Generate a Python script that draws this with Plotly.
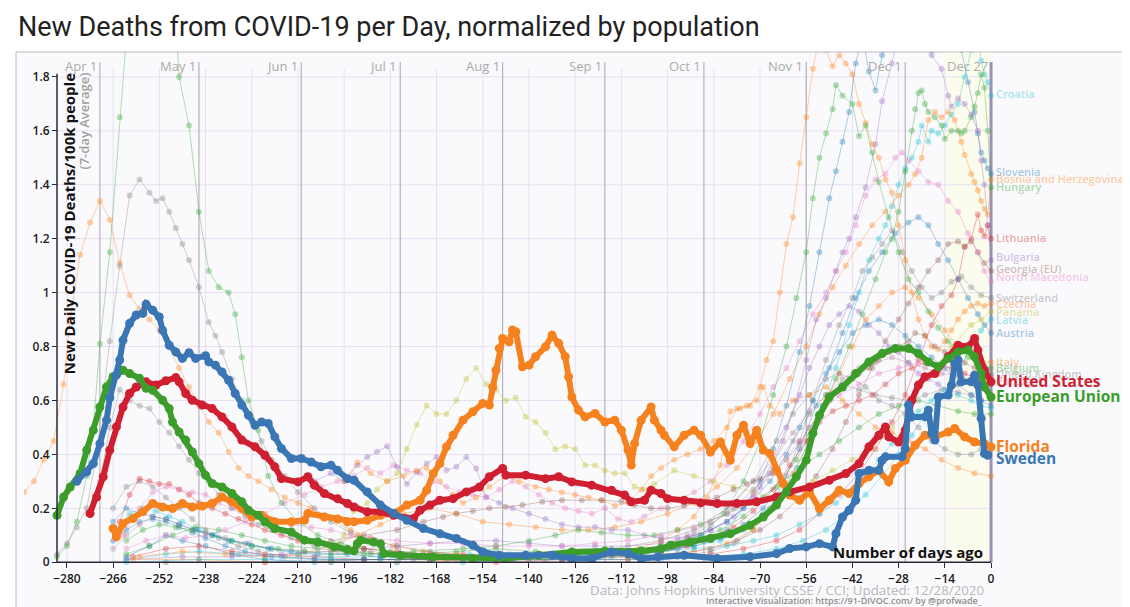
import plotly.graph_objects as go

# ---------------- DATA (day offset from Dec 27 2020, deaths / 100k, 7-day avg) ----------------
us = [(-273,0.181),(-271,0.242),(-269,0.317),(-267,0.416),(-265,0.502),(-263,0.576),(-261,0.626),(-259,0.65),
      (-256,0.669),(-253,0.657),(-250,0.673),(-247,0.685),(-246,0.669),(-244,0.626),(-242,0.601),(-239,0.583),
      (-236,0.57),(-233,0.539),(-230,0.502),(-227,0.453),(-223,0.428),(-220,0.397),(-217,0.354),(-215,0.31),
      (-210,0.298),(-207,0.317),(-205,0.286),(-202,0.255),(-198,0.236),(-195,0.218),(-193,0.205),(-189,0.187),
      (-185,0.187),(-181,0.174),(-175,0.162),(-173,0.193),(-170,0.212),(-167,0.23),(-163,0.236),(-159,0.261),
      (-155,0.279),(-152,0.317),(-148,0.348),(-147,0.323),(-141,0.323),(-135,0.31),(-131,0.317),(-127,0.298),
      (-121,0.286),(-115,0.267),(-111,0.249),(-109,0.224),(-105,0.23),(-103,0.267),(-100,0.255),(-98,0.236),
      (-93,0.23),(-88,0.22),(-83,0.218),(-77,0.218),(-71,0.224),(-65,0.242),(-61,0.261),(-55,0.279),(-49,0.304),
      (-44,0.329),(-40,0.366),(-37,0.428),(-34,0.471),(-32,0.502),(-31,0.465),(-28,0.446),(-26,0.49),(-24,0.601),
      (-22,0.657),(-20,0.688),(-17,0.7),(-13,0.762),(-10,0.805),(-7,0.799),(-5,0.83),(-4,0.787),(-2,0.712),(0,0.669)]

eu = [(-283,0.174),(-281,0.242),(-279,0.279),(-276,0.329),(-274,0.416),(-272,0.49),(-270,0.576),(-268,0.65),
      (-266,0.688),(-263,0.712),(-261,0.70),(-258,0.682),(-256,0.645),(-254,0.638),(-251,0.601),(-249,0.57),
      (-248,0.52),(-246,0.483),(-244,0.453),(-242,0.409),(-240,0.366),(-238,0.323),(-236,0.292),(-233,0.279),
      (-230,0.255),(-227,0.224),(-225,0.193),(-222,0.174),(-220,0.15),(-217,0.125),(-212,0.112),(-208,0.082),
      (-204,0.075),(-199,0.057),(-195,0.047),(-193,0.042),(-192,0.069),(-191,0.082),(-187,0.075),(-185,0.069),
      (-184,0.032),(-179,0.026),(-169,0.02),(-157,0.014),(-147,0.014),(-137,0.026),(-127,0.038),(-117,0.042),
      (-106,0.042),(-100,0.05),(-97,0.063),(-91,0.075),(-85,0.088),(-79,0.106),(-73,0.137),(-69,0.168),
      (-65,0.212),(-62,0.261),(-59,0.317),(-56,0.378),(-54,0.478),(-52,0.545),(-49,0.613),(-45,0.65),(-41,0.70),
      (-37,0.743),(-33,0.774),(-29,0.793),(-25,0.793),(-22,0.774),(-19,0.743),(-16,0.725),(-13,0.756),(-10,0.78),
      (-7,0.787),(-5,0.762),(-3,0.70),(-2,0.65),(0,0.613)]

florida = [(-266,0.125),(-265,0.094),(-263,0.143),(-260,0.162),(-257,0.187),(-254,0.218),(-251,0.205),(-248,0.199),
           (-245,0.218),(-242,0.205),(-239,0.208),(-236,0.218),(-233,0.242),(-230,0.224),(-227,0.199),(-224,0.168),
           (-221,0.174),(-217,0.15),(-212,0.15),(-208,0.156),(-207,0.181),(-202,0.168),(-198,0.16),(-195,0.15),
           (-193,0.15),(-189,0.156),(-185,0.174),(-181,0.181),(-177,0.212),(-173,0.23),(-171,0.267),(-169,0.329),
           (-167,0.366),(-165,0.428),(-163,0.471),(-160,0.527),(-157,0.558),(-154,0.589),(-152,0.583),(-151,0.65),
           (-150,0.712),(-149,0.793),(-148,0.83),(-146,0.818),(-145,0.861),(-144,0.855),(-142,0.725),(-140,0.731),
           (-138,0.762),(-135,0.799),(-133,0.842),(-131,0.812),(-129,0.762),(-128,0.688),(-127,0.613),(-125,0.564),
           (-123,0.539),(-120,0.552),(-117,0.52),(-114,0.527),(-112,0.49),(-110,0.416),(-109,0.36),(-108,0.44),
           (-106,0.527),(-103,0.576),(-102,0.527),(-100,0.49),(-99,0.471),(-96,0.428),(-93,0.471),(-90,0.49),
           (-88,0.471),(-85,0.409),(-82,0.446),(-79,0.378),(-77,0.471),(-75,0.508),(-73,0.44),(-71,0.49),(-69,0.416),
           (-67,0.403),(-65,0.341),(-63,0.292),(-61,0.249),(-58,0.23),(-55,0.261),(-52,0.199),(-49,0.23),(-46,0.267),
           (-43,0.255),(-40,0.292),(-37,0.317),(-34,0.341),(-31,0.298),(-29,0.348),(-26,0.378),(-23,0.434),
           (-20,0.471),(-17,0.465),(-13,0.483),(-11,0.496),(-8,0.465),(-5,0.446),(-2,0.44),(0,0.428)]

sweden = [(-277,0.30),(-274,0.335),(-272,0.366),(-270,0.44),(-268,0.527),(-267,0.61),(-265,0.694),(-264,0.75),
          (-263,0.824),(-261,0.886),(-259,0.917),(-257,0.923),(-256,0.957),(-254,0.935),(-252,0.91),(-251,0.86),
          (-249,0.805),(-247,0.78),(-245,0.756),(-243,0.777),(-241,0.756),(-238,0.766),(-237,0.743),(-235,0.731),
          (-233,0.706),(-231,0.675),(-229,0.626),(-227,0.583),(-225,0.545),(-223,0.508),(-221,0.52),(-219,0.515),
          (-217,0.465),(-215,0.422),(-212,0.385),(-209,0.385),(-206,0.372),(-203,0.354),(-200,0.36),(-198,0.341),
          (-195,0.31),(-193,0.304),(-189,0.261),(-185,0.212),(-181,0.181),(-177,0.156),(-172,0.125),(-167,0.106),
          (-162,0.088),(-157,0.063),(-154,0.038),(-149,0.026),(-141,0.026),(-133,0.026),(-127,0.014),(-121,0.014),
          (-115,0.038),(-110,0.032),(-106,0.014),(-101,0.02),(-93,0.026),(-83,0.014),(-73,0.02),(-65,0.032),
          (-61,0.051),(-56,0.057),(-52,0.069),(-48,0.057),(-47,0.106),(-45,0.168),(-43,0.193),(-41,0.23),(-40,0.329),
          (-37,0.341),(-34,0.341),(-33,0.378),(-32,0.391),(-27,0.391),(-26,0.422),(-25,0.583),(-24,0.539),(-20,0.539),
          (-19,0.564),(-18,0.478),(-17,0.453),(-16,0.613),(-13,0.62),(-12,0.657),(-11,0.737),(-10,0.75),(-9,0.669),
          (-6,0.669),(-5,0.694),(-4,0.657),(-3,0.533),(-2,0.403),(-1,0.397)]

croatia = [(-262,0.01),(-250,0.03),(-240,0.04),(-228,0.03),(-215,0.02),(-200,0.01),(-185,0.01),(-170,0.02),(-158,0.03),
           (-146,0.03),(-134,0.03),(-122,0.03),(-110,0.04),(-100,0.05),(-90,0.06),(-82,0.08),(-75,0.12),(-69,0.18),
           (-64,0.25),(-59,0.35),(-55,0.45),(-51,0.58),(-47,0.72),(-43,0.88),(-40,1.0),(-37,1.12),(-34,1.2),(-32,1.25),
           (-30,1.32),(-28,1.4),(-26,1.46),(-24,1.5),(-22,1.56),(-21,1.62),(-19,1.56),(-18,1.6),(-16,1.59),(-14,1.62),
           (-12,1.66),(-10,1.7),(-8,1.8),(-6,1.9),(-4,1.96),(-3,1.86),(-2,1.81),(-1,1.78),(0,1.73)]
slovenia = [(-262,0.02),(-255,0.06),(-250,0.1),(-245,0.08),(-238,0.06),(-230,0.03),(-220,0.01),(-205,0.0),(-190,0.01),
            (-175,0.01),(-160,0.01),(-145,0.01),(-130,0.01),(-115,0.02),(-105,0.03),(-95,0.05),(-87,0.08),(-80,0.12),
            (-75,0.2),(-70,0.3),(-66,0.42),(-62,0.58),(-58,0.78),(-55,0.95),(-52,1.15),(-49,1.35),(-47,1.45),(-45,1.56),
            (-43,1.67),(-41,1.85),(-39,1.95),(-37,1.82),(-35,1.75),(-33,1.88),(-30,2.0),(-27,2.05),(-24,2.0),(-21,1.95),
            (-18,1.9),(-15,1.92),(-12,1.98),(-9,1.9),(-7,1.78),(-5,1.67),(-4,1.59),(-3,1.52),(-2,1.49),(-1,1.46),(0,1.44)]
bosnia = [(-258,0.02),(-245,0.04),(-232,0.03),(-220,0.02),(-210,0.03),(-200,0.06),(-192,0.1),(-185,0.14),(-178,0.18),
          (-170,0.2),(-162,0.18),(-154,0.15),(-146,0.14),(-138,0.13),(-130,0.12),(-122,0.12),(-114,0.13),(-106,0.15),
          (-98,0.18),(-90,0.22),(-83,0.28),(-77,0.35),(-71,0.45),(-66,0.55),(-61,0.68),(-56,0.8),(-52,0.92),(-48,1.02),
          (-44,1.1),(-40,1.18),(-36,1.25),(-32,1.3),(-28,1.36),(-25,1.4),(-23,1.44),(-21,1.5),(-19,1.64),(-17,1.67),
          (-15,1.65),(-13,1.67),(-11,1.64),(-9,1.56),(-8,1.51),(-6,1.44),(-5,1.41),(-4,1.38),(-3,1.34),(-2,1.31),
          (-1,1.29),(0,1.42)]
hungary = [(-262,0.03),(-255,0.06),(-248,0.1),(-241,0.13),(-234,0.12),(-227,0.1),(-220,0.08),(-212,0.06),(-204,0.05),
           (-196,0.04),(-188,0.03),(-178,0.02),(-165,0.01),(-150,0.01),(-135,0.01),(-120,0.02),(-108,0.03),(-98,0.05),
           (-90,0.08),(-82,0.12),(-75,0.17),(-69,0.24),(-64,0.3),(-59,0.38),(-55,0.47),(-51,0.58),(-47,0.68),(-43,0.8),
           (-39,0.92),(-35,1.05),(-32,1.15),(-30,1.2),(-28,1.3),(-26,1.45),(-24,1.6),(-23,1.68),(-22,1.74),(-21,1.75),
           (-20,1.70),(-19,1.67),(-17,1.65),(-15,1.62),(-14,1.57),(-12,1.6),(-10,1.6),(-9,1.59),(-8,1.6),(-6,1.65),
           (-5,1.69),(-4,1.74),(-3,1.81),(-2,1.76),(-1,1.6),(0,1.39)]
lithuania = [(-260,0.02),(-250,0.05),(-240,0.06),(-230,0.04),(-220,0.03),(-205,0.02),(-190,0.01),(-170,0.01),(-150,0.0),
             (-130,0.01),(-110,0.01),(-95,0.02),(-85,0.03),(-75,0.05),(-65,0.08),(-58,0.12),(-52,0.18),(-46,0.25),
             (-40,0.33),(-35,0.42),(-30,0.52),(-26,0.62),(-22,0.75),(-18,0.88),(-15,0.95),(-12,0.99),(-10,1.05),
             (-8,1.17),(-6,1.2),(-4,1.29),(-3,1.23),(-2,1.21),(-1,1.25),(0,1.2)]
bulgaria = [(-262,0.01),(-245,0.02),(-230,0.02),(-215,0.03),(-200,0.04),(-190,0.05),(-180,0.06),(-170,0.07),(-160,0.08),
            (-150,0.08),(-140,0.07),(-130,0.06),(-120,0.06),(-110,0.06),(-100,0.07),(-92,0.09),(-85,0.12),(-78,0.17),
            (-72,0.24),(-67,0.33),(-63,0.45),(-59,0.6),(-56,0.75),(-53,0.9),(-50,0.98),(-47,1.08),(-45,1.15),(-43,1.2),
            (-41,1.28),(-38,1.39),(-35,1.55),(-33,1.71),(-30,1.85),(-27,2.0),(-24,2.1),(-21,2.05),(-18,1.88),(-15,1.83),
            (-13,1.73),(-12,1.69),(-10,1.72),(-8,1.7),(-6,1.66),(-4,1.6),(-3,1.49),(-2,1.4),(-1,1.25),(0,1.12)]
georgia = [(-250,0.0),(-220,0.0),(-190,0.01),(-160,0.01),(-130,0.01),(-110,0.02),(-95,0.03),(-85,0.05),(-77,0.08),
           (-70,0.12),(-64,0.17),(-58,0.24),(-53,0.32),(-48,0.42),(-44,0.52),(-40,0.62),(-36,0.72),(-32,0.82),(-28,0.9),
           (-25,0.96),(-22,1.02),(-19,1.08),(-16,1.12),(-13,1.18),(-10,1.19),(-8,1.17),(-6,1.19),(-4,1.15),(-2,1.11),(0,1.08)]
nmacedonia = [(-262,0.05),(-256,0.08),(-250,0.1),(-244,0.09),(-238,0.1),(-232,0.12),(-226,0.15),(-220,0.18),(-214,0.22),
              (-208,0.25),(-203,0.28),(-198,0.3),(-193,0.32),(-189,0.35),(-185,0.33),(-181,0.36),(-177,0.34),(-173,0.33),
              (-169,0.3),(-165,0.28),(-161,0.26),(-157,0.25),(-153,0.24),(-149,0.27),(-145,0.3),(-141,0.28),(-137,0.25),
              (-133,0.22),(-129,0.2),(-125,0.19),(-121,0.18),(-117,0.2),(-113,0.16),(-109,0.15),(-105,0.17),(-100,0.2),
              (-95,0.23),(-90,0.26),(-85,0.3),(-80,0.36),(-75,0.45),(-70,0.55),(-66,0.65),(-62,0.72),(-58,0.82),(-54,0.92),
              (-50,1.0),(-47,1.08),(-44,1.15),(-41,1.25),(-38,1.36),(-35,1.42),(-32,1.44),(-29,1.5),(-27,1.52),(-25,1.49),
              (-22,1.45),(-19,1.41),(-16,1.4),(-13,1.34),(-10,1.3),(-7,1.22),(-4,1.15),(-2,1.08),(0,1.04)]
switzerland = [(-266,0.2),(-262,0.28),(-258,0.3),(-254,0.28),(-250,0.24),(-246,0.2),(-242,0.16),(-238,0.12),(-234,0.09),
               (-228,0.06),(-222,0.04),(-214,0.02),(-200,0.01),(-185,0.01),(-170,0.01),(-150,0.01),(-130,0.01),(-110,0.01),
               (-95,0.02),(-85,0.04),(-78,0.07),(-72,0.12),(-67,0.2),(-62,0.32),(-58,0.45),(-54,0.6),(-50,0.75),(-46,0.88),
               (-42,0.98),(-39,1.08),(-36,1.13),(-33,1.18),(-30,1.23),(-27,1.15),(-24,1.08),(-21,1.02),(-18,0.98),
               (-15,1.0),(-12,1.04),(-9,1.06),(-6,1.02),(-3,0.99),(0,0.98)]
czechia = [(-260,0.01),(-240,0.01),(-220,0.0),(-200,0.0),(-180,0.0),(-160,0.01),(-140,0.01),(-125,0.02),(-115,0.03),
           (-107,0.05),(-100,0.08),(-95,0.12),(-90,0.17),(-86,0.24),(-82,0.36),(-79,0.56),(-76,0.57),(-73,0.58),
           (-70,0.65),(-68,0.75),(-66,0.82),(-64,1.0),(-62,1.18),(-60,1.28),(-58,1.48),(-56,1.65),(-54,1.83),(-52,1.95),
           (-50,1.9),(-48,1.84),(-46,1.88),(-44,1.85),(-42,1.81),(-40,1.7),(-38,1.63),(-36,1.55),(-34,1.5),(-32,1.42),
           (-30,1.37),(-28,1.25),(-26,1.12),(-24,1.0),(-22,0.9),(-20,0.84),(-18,0.8),(-16,0.79),(-14,0.82),(-12,0.86),
           (-10,0.9),(-8,0.93),(-6,0.95),(-4,0.96),(-2,0.95),(0,0.96)]
panama = [(-200,0.05),(-196,0.1),(-193,0.19),(-189,0.22),(-186,0.27),(-183,0.3),(-180,0.33),(-177,0.42),(-174,0.51),
          (-171,0.58),(-168,0.55),(-165,0.55),(-162,0.6),(-159,0.68),(-156,0.72),(-153,0.66),(-150,0.64),(-147,0.6),
          (-144,0.61),(-141,0.54),(-138,0.52),(-135,0.48),(-132,0.42),(-129,0.43),(-126,0.42),(-123,0.36),(-120,0.36),
          (-117,0.34),(-114,0.33),(-111,0.33),(-108,0.28),(-105,0.27),(-102,0.29),(-96,0.34),(-90,0.32),(-84,0.3),
          (-78,0.28),(-72,0.26),(-66,0.24),(-60,0.26),(-54,0.3),(-48,0.34),(-42,0.38),(-36,0.42),(-30,0.5),(-24,0.6),
          (-18,0.7),(-12,0.8),(-6,0.88),(-3,0.9),(0,0.93)]
latvia = [(-262,0.0),(-240,0.01),(-220,0.01),(-200,0.0),(-180,0.0),(-160,0.0),(-140,0.01),(-120,0.01),(-100,0.01),
          (-85,0.02),(-75,0.03),(-65,0.05),(-57,0.08),(-50,0.12),(-44,0.18),(-38,0.25),(-33,0.32),(-28,0.4),(-24,0.47),
          (-20,0.55),(-16,0.6),(-13,0.63),(-10,0.7),(-7,0.78),(-5,0.82),(-3,0.86),(0,0.9)]
austria = [(-266,0.08),(-262,0.12),(-258,0.15),(-254,0.16),(-250,0.15),(-246,0.13),(-242,0.11),(-238,0.09),(-232,0.06),
           (-226,0.04),(-218,0.02),(-205,0.01),(-190,0.01),(-170,0.01),(-150,0.01),(-130,0.02),(-112,0.03),(-100,0.04),
           (-90,0.06),(-82,0.09),(-75,0.14),(-69,0.2),(-63,0.3),(-58,0.42),(-53,0.58),(-49,0.72),(-45,0.85),(-41,0.98),
           (-37,1.08),(-33,1.15),(-29,1.22),(-25,1.26),(-22,1.28),(-19,1.25),(-16,1.18),(-13,1.12),(-10,1.05),(-7,0.98),
           (-4,0.92),(-2,0.88),(0,0.85)]
italy = [(-293,0.26),(-290,0.3),(-287,0.38),(-284,0.45),(-281,0.66),(-279,0.9),(-276,1.14),(-273,1.26),(-270,1.34),
         (-267,1.27),(-264,1.11),(-261,0.99),(-258,0.94),(-255,0.9),(-252,0.86),(-249,0.8),(-246,0.72),(-243,0.65),
         (-240,0.58),(-237,0.52),(-234,0.48),(-231,0.41),(-228,0.35),(-225,0.32),(-222,0.3),(-218,0.27),(-214,0.24),
         (-210,0.22),(-206,0.2),(-200,0.16),(-194,0.12),(-188,0.09),(-181,0.06),(-172,0.04),(-162,0.03),(-150,0.02),
         (-140,0.02),(-130,0.02),(-120,0.02),(-110,0.02),(-100,0.03),(-90,0.04),(-80,0.07),(-72,0.12),(-66,0.2),
         (-60,0.33),(-55,0.45),(-50,0.6),(-46,0.7),(-42,0.8),(-38,0.9),(-34,0.95),(-30,1.0),(-26,1.02),(-22,0.98),
         (-18,0.92),(-14,0.86),(-10,0.8),(-6,0.77),(-3,0.75),(0,0.74)]
belgium = [(-283,0.02),(-280,0.06),(-277,0.15),(-274,0.32),(-272,0.5),(-270,0.81),(-267,1.15),(-264,1.65),(-261,2.1),
           (-257,2.6),(-253,2.8),(-249,2.4),(-246,1.8),(-243,1.62),(-240,1.3),(-237,1.08),(-234,1.02),(-231,1.0),
           (-229,0.92),(-227,0.76),(-225,0.6),(-222,0.49),(-219,0.32),(-215,0.22),(-210,0.15),(-204,0.1),(-197,0.07),
           (-190,0.05),(-182,0.04),(-172,0.03),(-162,0.04),(-150,0.05),(-138,0.04),(-126,0.03),(-114,0.03),(-104,0.04),
           (-96,0.06),(-88,0.1),(-81,0.18),(-75,0.3),(-70,0.45),(-66,0.62),(-62,0.8),(-59,0.98),(-56,1.15),(-54,1.35),
           (-52,1.5),(-50,1.59),(-48,1.68),(-47,1.77),(-45,1.73),(-42,1.70),(-40,1.58),(-38,1.62),(-36,1.52),(-34,1.41),
           (-31,1.28),(-28,1.15),(-25,1.05),(-22,1.0),(-19,0.93),(-16,0.87),(-13,0.82),(-10,0.79),(-7,0.76),(-4,0.74),
           (-2,0.73),(0,0.72)]
uk = [(-283,0.03),(-280,0.07),(-277,0.13),(-274,0.2),(-271,0.4),(-267,0.82),(-264,1.1),(-261,1.36),(-258,1.42),
      (-255,1.37),(-253,1.34),(-251,1.35),(-249,1.3),(-247,1.24),(-245,1.18),(-243,1.12),(-240,1.02),(-237,0.89),
      (-235,0.84),(-233,0.78),(-230,0.68),(-227,0.6),(-224,0.52),(-221,0.45),(-218,0.38),(-214,0.32),(-210,0.26),
      (-205,0.2),(-200,0.15),(-194,0.11),(-187,0.08),(-180,0.06),(-170,0.04),(-158,0.02),(-145,0.02),(-132,0.02),
      (-120,0.02),(-110,0.03),(-100,0.05),(-92,0.09),(-85,0.14),(-78,0.2),(-72,0.27),(-66,0.35),(-60,0.45),(-55,0.55),
      (-50,0.62),(-45,0.66),(-40,0.64),(-35,0.62),(-30,0.61),(-25,0.6),(-20,0.62),(-15,0.64),(-10,0.66),(-6,0.68),
      (-3,0.69),(0,0.70)]
portugal = [(-266,0.05),(-262,0.1),(-258,0.14),(-254,0.17),(-250,0.16),(-246,0.14),(-242,0.12),(-238,0.11),(-232,0.09),
            (-226,0.07),(-218,0.05),(-208,0.04),(-198,0.04),(-188,0.04),(-178,0.03),(-168,0.03),(-158,0.02),(-148,0.02),
            (-138,0.02),(-128,0.03),(-118,0.03),(-108,0.04),(-100,0.06),(-92,0.1),(-85,0.15),(-78,0.22),(-72,0.3),
            (-66,0.38),(-60,0.48),(-55,0.56),(-50,0.62),(-45,0.68),(-40,0.72),(-35,0.74),(-30,0.76),(-25,0.74),
            (-20,0.72),(-15,0.7),(-10,0.69),(-5,0.68),(0,0.68)]
france = [(-270,0.3),(-267,0.5),(-264,0.64),(-261,0.6),(-258,0.58),(-255,0.57),(-252,0.52),(-249,0.48),(-246,0.43),
          (-243,0.38),(-240,0.33),(-237,0.3),(-234,0.25),(-230,0.2),(-226,0.17),(-222,0.14),(-218,0.12),(-212,0.09),
          (-205,0.06),(-195,0.04),(-185,0.03),(-170,0.02),(-150,0.02),(-130,0.03),(-115,0.05),(-100,0.08),(-90,0.12),
          (-80,0.2),(-72,0.3),(-65,0.45),(-60,0.55),(-55,0.62),(-50,0.68),(-46,0.7),(-42,0.68),(-38,0.65),(-34,0.6),
          (-30,0.58),(-26,0.55),(-22,0.5),(-18,0.45),(-14,0.42),(-10,0.4),(-6,0.4),(-3,0.42),(0,0.42)]
purple_mid = [(-205,0.3),(-200,0.33),(-196,0.3),(-192,0.36),(-189,0.39),(-186,0.41),(-183,0.43),(-180,0.354),(-177,0.29),
              (-174,0.335),(-171,0.366),(-168,0.39),(-165,0.341),(-162,0.354),(-159,0.39),(-156,0.348),(-153,0.242),
              (-149,0.22),(-145,0.2),(-140,0.18),(-135,0.16),(-130,0.14),(-125,0.13),(-120,0.131),(-115,0.12),
              (-110,0.12),(-105,0.1),(-100,0.09),(-95,0.09),(-90,0.1),(-85,0.12),(-80,0.15),(-75,0.2),(-70,0.28),
              (-66,0.38),(-62,0.5),(-58,0.62),(-55,0.72),(-52,0.8),(-49,0.88),(-46,0.92),(-43,0.95),(-40,0.93),
              (-37,0.88),(-34,0.85),(-31,0.8),(-28,0.78),(-25,0.74),(-22,0.7),(-19,0.68),(-16,0.66),(-13,0.64),
              (-10,0.63),(-6,0.62),(-3,0.6),(0,0.6)]
peach_mid = [(-196,0.3),(-192,0.37),(-188,0.33),(-183,0.3),(-178,0.32),(-174,0.34),(-171,0.35),(-167,0.3),(-163,0.25),
             (-160,0.22),(-156,0.24),(-152,0.28),(-147,0.32),(-143,0.3),(-138,0.28),(-134,0.27),(-130,0.26),(-126,0.25),
             (-122,0.24),(-118,0.23),(-114,0.21),(-110,0.22),(-106,0.27),(-103,0.32),(-100,0.35),(-96,0.38),(-92,0.4),
             (-88,0.42),(-84,0.45),(-80,0.5),(-77,0.57),(-74,0.58),(-71,0.6),(-69,0.65),(-67,0.58),(-64,0.55),(-60,0.6),
             (-55,0.62),(-50,0.65),(-45,0.6),(-40,0.55),(-35,0.5),(-30,0.48),(-25,0.45),(-20,0.42),(-15,0.38),(-10,0.35),
             (-5,0.33),(0,0.32)]
brown_mid = [(-200,0.08),(-190,0.1),(-180,0.12),(-172,0.15),(-166,0.168),(-162,0.181),(-157,0.19),(-152,0.2),(-147,0.205),
             (-142,0.212),(-136,0.224),(-130,0.23),(-124,0.23),(-118,0.23),(-112,0.225),(-108,0.212),(-103,0.2),(-98,0.2),
             (-93,0.21),(-88,0.224),(-83,0.24),(-78,0.27),(-74,0.29),(-70,0.31),(-66,0.33),(-62,0.38),(-58,0.44),
             (-55,0.5),(-52,0.55),(-49,0.6),(-46,0.64),(-43,0.68),(-40,0.7),(-37,0.72),(-34,0.75),(-31,0.78),(-28,0.8),
             (-25,0.82),(-23,0.85),(-20,0.84),(-17,0.8),(-14,0.78),(-11,0.76),(-8,0.74),(-5,0.72),(-2,0.7),(0,0.69)]
red_other = [(-264,0.15),(-261,0.25),(-258,0.31),(-255,0.3),(-252,0.29),(-249,0.29),(-246,0.27),(-243,0.25),(-240,0.22),
             (-236,0.2),(-232,0.18),(-228,0.16),(-224,0.14),(-220,0.12),(-215,0.1),(-210,0.08),(-204,0.07),(-198,0.06),
             (-190,0.05),(-180,0.04),(-170,0.03),(-160,0.03),(-150,0.02),(-140,0.02),(-130,0.02),(-120,0.02),(-110,0.03),
             (-100,0.04),(-92,0.06),(-85,0.09),(-78,0.13),(-72,0.19),(-66,0.27),(-61,0.36),(-56,0.45),(-52,0.52),
             (-48,0.56),(-44,0.58),(-40,0.6),(-36,0.62),(-32,0.66),(-28,0.7),(-24,0.72),(-20,0.74),(-16,0.73),(-12,0.72),
             (-8,0.7),(-4,0.68),(0,0.66)]
teal_other = [(-265,0.12),(-261,0.18),(-257,0.2),(-253,0.19),(-249,0.17),(-245,0.15),(-240,0.12),(-235,0.1),(-230,0.08),
              (-224,0.06),(-218,0.05),(-210,0.03),(-200,0.02),(-185,0.02),(-170,0.02),(-150,0.02),(-130,0.03),(-115,0.03),
              (-100,0.04),(-90,0.05),(-80,0.06),(-72,0.08),(-65,0.1),(-58,0.14),(-52,0.18),(-47,0.22),(-42,0.27),
              (-38,0.32),(-34,0.38),(-30,0.44),(-26,0.5),(-22,0.56),(-18,0.6),(-14,0.64),(-10,0.62),(-6,0.6),(-3,0.58),(0,0.57)]
green_other = [(-262,0.08),(-257,0.12),(-252,0.14),(-247,0.13),(-242,0.12),(-236,0.1),(-230,0.08),(-224,0.06),(-216,0.05),
               (-208,0.04),(-200,0.03),(-190,0.03),(-175,0.04),(-160,0.05),(-150,0.06),(-140,0.08),(-132,0.1),(-125,0.12),
               (-118,0.11),(-110,0.1),(-102,0.1),(-95,0.12),(-88,0.14),(-80,0.18),(-72,0.22),(-65,0.28),(-58,0.35),
               (-52,0.4),(-46,0.45),(-40,0.5),(-34,0.55),(-28,0.58),(-22,0.6),(-16,0.58),(-10,0.56),(-5,0.55),(0,0.55)]
blue_other = [(-266,0.15),(-262,0.2),(-258,0.18),(-254,0.17),(-250,0.16),(-246,0.14),(-241,0.12),(-236,0.1),(-231,0.08),
              (-225,0.07),(-219,0.05),(-212,0.04),(-204,0.03),(-195,0.03),(-185,0.02),(-170,0.02),(-155,0.02),(-140,0.02),
              (-125,0.03),(-110,0.04),(-98,0.06),(-88,0.1),(-80,0.15),(-73,0.22),(-67,0.3),(-62,0.4),(-58,0.5),(-54,0.6),
              (-50,0.7),(-46,0.78),(-42,0.85),(-38,0.88),(-34,0.9),(-30,0.88),(-26,0.84),(-22,0.8),(-18,0.76),(-14,0.72),
              (-10,0.66),(-6,0.62),(-3,0.6),(0,0.58)]
pink_other = [(-263,0.1),(-258,0.2),(-254,0.26),(-250,0.28),(-246,0.27),(-242,0.26),(-238,0.25),(-234,0.22),(-230,0.2),
              (-226,0.19),(-222,0.18),(-218,0.16),(-212,0.14),(-206,0.13),(-200,0.12),(-194,0.1),(-188,0.09),(-180,0.08),
              (-170,0.07),(-160,0.07),(-150,0.06),(-140,0.06),(-130,0.06),(-120,0.07),(-110,0.08),(-100,0.1),(-90,0.13),
              (-80,0.18),(-72,0.25),(-65,0.35),(-58,0.45),(-52,0.55),(-46,0.62),(-40,0.66),(-34,0.7),(-28,0.72),
              (-22,0.74),(-16,0.72),(-10,0.7),(-5,0.69),(0,0.68)]

# highlighted series: name, data, color, label y-position (value units)
main_names = ["Florida", "United States", "European Union", "Sweden"]
main_data = [florida, us, eu, sweden]
main_colors = ["#f5821f", "#d01f30", "#3c9d2b", "#3a76b3"]
main_label_y = [0.430, 0.672, 0.616, 0.386]

# background series
bg_names = ["Croatia", "Slovenia", "Bosnia and Herzegovina", "Hungary", "Lithuania", "Bulgaria", "Georgia (EU)",
            "North Macedonia", "Switzerland", "Czechia", "Panama", "Latvia", "Austria", "Italy", "Belgium",
            "United Kingdom", "Portugal", "", "", "", "", "", "", "", "", ""]
bg_data = [croatia, slovenia, bosnia, hungary, lithuania, bulgaria, georgia, nmacedonia, switzerland, czechia, panama,
           latvia, austria, italy, belgium, uk, portugal, france, purple_mid, peach_mid, brown_mid, red_other,
           teal_other, green_other, blue_other, pink_other]
bg_colors = ["#17becf", "#1f77b4", "#ff7f0e", "#2ca02c", "#d62728", "#9467bd", "#8c564b", "#e377c2", "#7f7f7f",
             "#ff7f0e", "#bcbd22", "#17becf", "#1f77b4", "#ff7f0e", "#2ca02c", "#7f7f7f", "#b07f8f", "#7f7f7f",
             "#9467bd", "#ff7f0e", "#8c564b", "#d62728", "#17becf", "#2ca02c", "#1f77b4", "#e377c2"]
bg_label_y = [1.737, 1.451, 1.425, 1.392, 1.206, 1.135, 1.091, 1.058, 0.983, 0.961, 0.931, 0.902, 0.853, 0.746,
              0.724, 0.701, 0.675]

x_ticks = list(range(-280, 1, 14))
y_ticks = [0, 0.2, 0.4, 0.6, 0.8, 1.0, 1.2, 1.4, 1.6, 1.8]
y_tick_text = ["0", "0.2", "0.4", "0.6", "0.8", "1", "1.2", "1.4", "1.6", "1.8"]
month_labels = ["Apr 1", "May 1", "Jun 1", "Jul 1", "Aug 1", "Sep 1", "Oct 1", "Nov 1", "Dec 1", "Dec 27"]
month_days = [-270, -240, -209, -179, -148, -117, -87, -56, -26, 0]

# ---------------- LAYOUT GEOMETRY ----------------
OFF = 8                      # page body margin: the figure starts 8px in from the window edge
W, H = 1130 - OFF, 607 - OFF
ML, MR, MT, MB = 24 - OFF, 134, 52 - OFF, 38
X0, X1 = -293, 1.5
Y0, Y1 = -0.025, 1.8924
PW, PH = W - ML - MR, H - MT - MB
AXIS_DAY = -283


def pxx(px):
    # window pixel -> paper fraction
    return (px - OFF - ML) / PW


def pxy(py):
    return (H - MB - (py - OFF)) / PH


def rgba(hexc, a):
    h = hexc.lstrip("#")
    return "rgba(%d,%d,%d,%.3f)" % (int(h[0:2], 16), int(h[2:4], 16), int(h[4:6], 16), a)


fig = go.Figure()

for name, data, col in zip(bg_names, bg_data, bg_colors):
    fig.add_trace(go.Scatter(
        x=[d for d, v in data], y=[v for d, v in data], mode="lines+markers",
        line=dict(color=rgba(col, 0.36), width=1),
        marker=dict(color=rgba(col, 0.34), size=6, line=dict(width=0)),
        showlegend=False, hoverinfo="skip"))

for name, data, col in zip(main_names, main_data, main_colors):
    fig.add_trace(go.Scatter(
        x=[d for d, v in data], y=[v for d, v in data], mode="lines+markers",
        line=dict(color=col, width=6), marker=dict(color=col, size=9, line=dict(width=0)),
        showlegend=False, name=name))

shapes = []
shapes.append(dict(type="rect", xref="paper", yref="paper", x0=pxx(16), x1=pxx(1127), y0=pxy(640), y1=pxy(52),
                   fillcolor="#fafafd", line=dict(color="#cfcfd6", width=1.5), layer="below"))
shapes.append(dict(type="rect", xref="x", yref="y", x0=-14, x1=0, y0=0, y1=Y1,
                   fillcolor="rgba(255,255,205,0.3)", line=dict(width=0), layer="below"))
for v in y_ticks[1:]:
    shapes.append(dict(type="line", xref="x", yref="y", x0=AXIS_DAY, x1=0, y0=v, y1=v,
                       line=dict(color="#e6e0f2", width=1), layer="below"))
for d in x_ticks[:-1]:
    shapes.append(dict(type="line", xref="x", yref="y", x0=d, x1=d, y0=0, y1=1.83,
                       line=dict(color="#e6e0f2", width=1), layer="below"))
for d in month_days:
    shapes.append(dict(type="line", xref="x", yref="y", x0=d, x1=d, y0=0, y1=1.855,
                       line=dict(color="#b4b2bc", width=1.2), layer="below"))
shapes.append(dict(type="line", xref="x", yref="y", x0=0, x1=0, y0=0, y1=1.855,
                   line=dict(color="#9a92b2", width=3), layer="below"))
shapes.append(dict(type="line", xref="x", yref="y", x0=AXIS_DAY, x1=AXIS_DAY, y0=0, y1=1.812,
                   line=dict(color="#2a2838", width=1.5)))
shapes.append(dict(type="line", xref="x", yref="y", x0=AXIS_DAY, x1=0, y0=0, y1=0,
                   line=dict(color="#2a2838", width=1.5)))

FONT = "Open Sans"
ann = []
ann.append(dict(text="New Deaths from COVID-19 per Day, normalized by population", xref="paper", yref="paper",
                x=pxx(16), y=pxy(27), xanchor="left", yanchor="middle", showarrow=False,
                font=dict(family="Roboto", size=27, color="#222222", weight=400)))
for lab, d in zip(month_labels, month_days):
    ann.append(dict(text=lab, xref="x", yref="y", x=d, y=1.84, xanchor="right", yanchor="middle", xshift=-1,
                    showarrow=False, font=dict(family=FONT, size=13, color="#ababab")))
ann.append(dict(text="New Daily COVID-19 Deaths/100k people", xref="x", yref="y", x=-279.4, y=1.815, textangle=-90,
                xanchor="center", yanchor="top", yshift=2, showarrow=False,
                font=dict(family=FONT, size=15, color="#111111", weight=700)))
ann.append(dict(text="(7-day Average)", xref="x", yref="y", x=-274.8, y=1.815, textangle=-90,
                xanchor="center", yanchor="top", yshift=2, showarrow=False,
                font=dict(family=FONT, size=13, color="#a0a0a0", weight=600)))
ann.append(dict(text="Number of days ago", xref="x", yref="y", x=-1.8, y=0.037, xanchor="right", yanchor="middle",
                showarrow=False, font=dict(family=FONT, size=15, color="#111111", weight=700)))
ann.append(dict(text="Data: Johns Hopkins University CSSE / CCI; Updated: 12/28/2020", xref="paper", yref="paper",
                x=pxx(986), y=pxy(590), xanchor="right", yanchor="middle", showarrow=False,
                font=dict(family=FONT, size=13.3, color="#b8b8b8")))
ann.append(dict(text="Interactive Visualization: https://91-DIVOC.com/ by @profwade_", xref="paper", yref="paper",
                x=pxx(984), y=pxy(600), xanchor="right", yanchor="middle", showarrow=False,
                font=dict(family=FONT, size=9, color="#8c8c8c", weight=600)))
for name, col, ly in zip(bg_names, bg_colors, bg_label_y):
    ann.append(dict(text=name, xref="x", yref="y", x=0, y=ly, xanchor="left", yanchor="middle", xshift=3,
                    showarrow=False, font=dict(family=FONT, size=11, color=rgba(col, 0.4), weight=600)))
for name, col, ly in zip(main_names, main_colors, main_label_y):
    ann.append(dict(text=name, xref="x", yref="y", x=0, y=ly, xanchor="left", yanchor="middle", xshift=3,
                    showarrow=False, font=dict(family=FONT, size=15.5, color=col, weight=700)))

fig.update_layout(
    width=W, height=H, margin=dict(l=ML, r=MR, t=MT, b=MB),
    paper_bgcolor="white", plot_bgcolor="rgba(0,0,0,0)",
    shapes=shapes, annotations=ann, showlegend=False,
    xaxis=dict(range=[X0, X1], showgrid=False, zeroline=False, showline=False, anchor="free",
               position=(0 - Y0) / (Y1 - Y0), tickvals=x_ticks, ticks="outside", ticklen=5, tickwidth=1.2,
               tickcolor="#2a2838", tickfont=dict(family=FONT, size=12, color="#1a1a1a", weight=600)),
    yaxis=dict(range=[Y0, Y1], showgrid=False, zeroline=False, showline=False, anchor="free",
               position=(AXIS_DAY - X0) / (X1 - X0), tickvals=y_ticks, ticktext=y_tick_text, ticks="outside",
               ticklen=5, tickwidth=1.2, tickcolor="#2a2838",
               tickfont=dict(family=FONT, size=12, color="#1a1a1a", weight=600)),
)

fig.write_html("out.html")
